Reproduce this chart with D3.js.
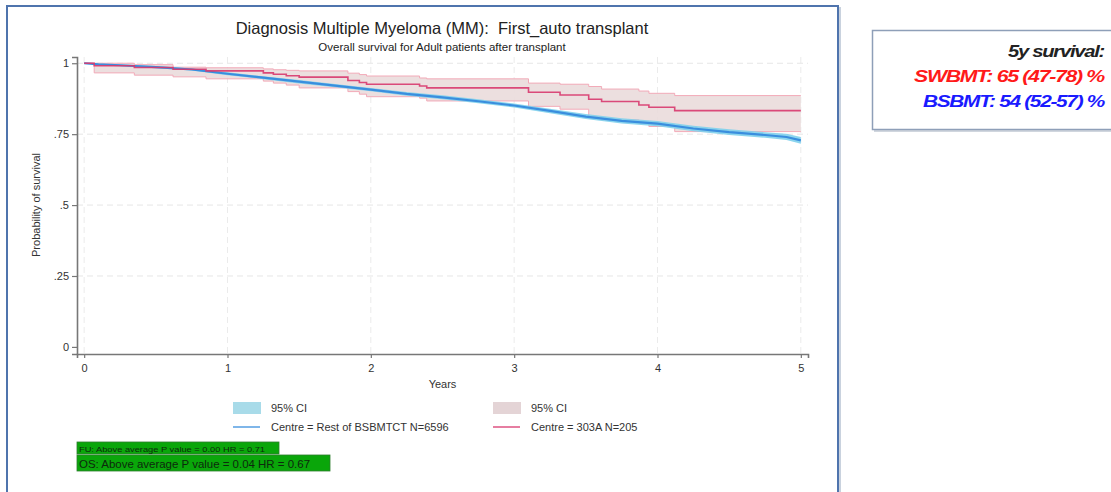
<!DOCTYPE html>
<html>
<head>
<meta charset="utf-8">
<script src="https://cdn.jsdelivr.net/npm/d3@7/dist/d3.min.js"></script>
<style>
  html, body { margin: 0; padding: 0; background: #fff; }
  svg { display: block; font-family: "Liberation Sans", Arial, sans-serif; }
  .pre { white-space: pre; }
</style>
</head>
<body>
<svg id="chart" width="1111" height="492"></svg>
<script>
// ---------- data ----------
const titleText = "Diagnosis Multiple Myeloma (MM):  First_auto transplant";
const subtitleText = "Overall survival for Adult patients after transplant";
const yTickValues = [0, 0.25, 0.5, 0.75, 1];
const yTickLabels = ["0", ".25", ".5", ".75", "1"];
const xTickValues = [0, 1, 2, 3, 4, 5];
const xTickLabels = ["0", "1", "2", "3", "4", "5"];

// Rest of BSBMTCT (N=6596) – many small steps, read at regular times
const blueTimes = [0, 0.1, 0.25, 0.5, 0.75, 1.0, 1.25, 1.5, 1.75, 2.0, 2.25, 2.5, 2.75, 3.0, 3.25, 3.5, 3.75, 4.0, 4.25, 4.5, 4.75, 4.9, 5.0];
const blueSurv  = [1.0, 0.996, 0.993, 0.986, 0.978, 0.963, 0.949, 0.935, 0.921, 0.907, 0.892, 0.880, 0.866, 0.851, 0.832, 0.812, 0.797, 0.787, 0.770, 0.757, 0.747, 0.740, 0.728];
const blueUpper = [1.0, 0.998, 0.996, 0.990, 0.982, 0.968, 0.954, 0.941, 0.927, 0.913, 0.899, 0.887, 0.873, 0.858, 0.840, 0.821, 0.806, 0.796, 0.780, 0.767, 0.757, 0.751, 0.740];
const blueLower = [1.0, 0.994, 0.990, 0.982, 0.974, 0.958, 0.944, 0.929, 0.915, 0.901, 0.885, 0.873, 0.859, 0.844, 0.824, 0.803, 0.788, 0.778, 0.760, 0.747, 0.737, 0.729, 0.716];

// Centre 303A (N=205) – step function
const redTimes = [0, 0.07, 0.35, 0.62, 0.85, 1.25, 1.32, 1.41, 1.50, 1.84, 1.92, 1.97, 2.34, 2.39, 3.10, 3.32, 3.52, 3.61, 3.87, 3.94, 4.12, 5.0];
const redSurv  = [1.0, 0.991, 0.985, 0.979, 0.973, 0.966, 0.961, 0.956, 0.951, 0.939, 0.932, 0.926, 0.920, 0.913, 0.898, 0.888, 0.873, 0.865, 0.853, 0.845, 0.833, 0.833];
const redUpper = [1.0, 1.0, 0.995, 0.986, 0.984, 0.980, 0.977, 0.975, 0.973, 0.965, 0.960, 0.955, 0.948, 0.945, 0.930, 0.926, 0.918, 0.909, 0.902, 0.894, 0.886, 0.886];
const redLower = [1.0, 0.966, 0.958, 0.952, 0.945, 0.937, 0.930, 0.923, 0.913, 0.900, 0.891, 0.882, 0.877, 0.867, 0.848, 0.838, 0.812, 0.800, 0.789, 0.777, 0.759, 0.759];

const legendLabels = ["95% CI", "Centre = Rest of BSBMTCT N=6596", "95% CI", "Centre = 303A N=205"];
const noteLines = ["FU: Above average P value = 0.00 HR = 0.71", "OS: Above average P value = 0.04 HR = 0.67"];
const boxLines = ["5y survival:", "SWBMT: 65 (47-78) %", "BSBMT: 54 (52-57) %"];

// ---------- drawing ----------
const svg = d3.select("#chart");
const blueLine = "#3a8ede", blueFill = "#7fd0ec", blueSwatch = "#a8dbe9";
const redLine = "#d8386e", redFill = "#eadcdc", redEdge = "#f2aab8";

// outer panel border (shadow + blue frame)
svg.append("rect").attr("x", 9).attr("y", 8).attr("width", 831).attr("height", 500)
  .attr("fill", "none").attr("stroke", "#c9d2de").attr("stroke-width", 2);
svg.append("rect").attr("x", 7).attr("y", 6).attr("width", 831).attr("height", 500)
  .attr("fill", "#fff").attr("stroke", "#4f74ad").attr("stroke-width", 2);

const x = d3.scaleLinear().domain([-0.05, 5.05]).range([77, 808]);
const y = d3.scaleLinear().domain([-0.025, 1.022]).range([354, 57]);

// gridlines
const grid = svg.append("g");
grid.selectAll("line.vg").data(xTickValues).join("line")
  .attr("x1", d => x(d)).attr("x2", d => x(d))
  .attr("y1", y.range()[1]).attr("y2", y.range()[0])
  .attr("stroke", "#ebebeb").attr("stroke-width", 1).attr("stroke-dasharray", "6,4");
grid.selectAll("line.hg").data(yTickValues.filter(v => v > 0)).join("line")
  .attr("x1", x.range()[0]).attr("x2", x.range()[1])
  .attr("y1", d => y(d)).attr("y2", d => y(d))
  .attr("stroke", "#e6e6e6").attr("stroke-width", 1).attr("stroke-dasharray", "6,4");

// axes
const yAxis = svg.append("g").attr("transform", `translate(${x.range()[0]},0)`)
  .call(d3.axisLeft(y).tickValues(yTickValues).tickFormat((d, i) => yTickLabels[i]).tickSizeOuter(0).tickSize(5).tickPadding(3));
const xAxis = svg.append("g").attr("transform", `translate(0,${y.range()[0]})`)
  .call(d3.axisBottom(x).tickValues(xTickValues).tickFormat((d, i) => xTickLabels[i]).tickSizeOuter(0).tickSize(4).tickPadding(6));
[yAxis, xAxis].forEach(a => {
  a.select(".domain").attr("stroke", "#777").attr("stroke-width", 1.6);
  a.selectAll(".tick line").attr("stroke", "#777").attr("stroke-width", 1.2);
  a.selectAll(".tick text").attr("fill", "#333").attr("font-size", 11)
    .attr("font-family", "'Liberation Sans', Arial, sans-serif");
});

// CI bands
const blueData = blueTimes.map((t, i) => ({t, s: blueSurv[i], u: blueUpper[i], l: blueLower[i]}));
const redData = redTimes.map((t, i) => ({t, s: redSurv[i], u: redUpper[i], l: redLower[i]}));

const areaStep = d3.area().x(d => x(d.t)).y0(d => y(d.l)).y1(d => y(d.u)).curve(d3.curveStepAfter);
const areaLin = d3.area().x(d => x(d.t)).y0(d => y(d.l)).y1(d => y(d.u)).curve(d3.curveLinear);
const lineStep = k => d3.line().x(d => x(d.t)).y(d => y(d[k])).curve(d3.curveStepAfter);
const lineLin = k => d3.line().x(d => x(d.t)).y(d => y(d[k])).curve(d3.curveLinear);

svg.append("path").datum(redData).attr("d", areaStep).attr("fill", redFill).attr("opacity", 0.9);
["u", "l"].forEach(k => svg.append("path").datum(redData).attr("d", lineStep(k))
  .attr("fill", "none").attr("stroke", redEdge).attr("stroke-width", 1));
svg.append("path").datum(blueData).attr("d", areaLin).attr("fill", blueFill).attr("opacity", 0.9);
svg.append("path").datum(blueData).attr("d", lineLin("s"))
  .attr("fill", "none").attr("stroke", blueLine).attr("stroke-width", 2.2);
svg.append("path").datum(redData).attr("d", lineStep("s"))
  .attr("fill", "none").attr("stroke", redLine).attr("stroke-width", 1.6).attr("opacity", 0.9);

// titles
svg.append("text").attr("class", "pre").attr("x", 442).attr("y", 34).attr("text-anchor", "middle")
  .attr("font-size", 16.5).attr("fill", "#222").text(titleText);
svg.append("text").attr("x", 442).attr("y", 51).attr("text-anchor", "middle")
  .attr("font-size", 11.5).attr("fill", "#222").text(subtitleText);
svg.append("text").attr("transform", "translate(40,205) rotate(-90)").attr("text-anchor", "middle")
  .attr("font-size", 11).attr("fill", "#333").text("Probability of survival");
svg.append("text").attr("x", (x(0) + x(5)) / 2).attr("y", 388).attr("text-anchor", "middle")
  .attr("font-size", 11).attr("fill", "#333").text("Years");

// legend
const legend = svg.append("g");
const legItems = [
  {x: 233, y: 408, type: "rect", color: blueSwatch, label: legendLabels[0]},
  {x: 233, y: 427, type: "line", color: blueLine, label: legendLabels[1]},
  {x: 493, y: 408, type: "rect", color: "#e4d4d6", label: legendLabels[2]},
  {x: 493, y: 427, type: "line", color: redLine, label: legendLabels[3]}
];
legItems.forEach(it => {
  if (it.type === "rect") {
    legend.append("rect").attr("x", it.x).attr("y", it.y - 6).attr("width", 28).attr("height", 12).attr("fill", it.color);
  } else {
    legend.append("line").attr("x1", it.x).attr("x2", it.x + 27).attr("y1", it.y).attr("y2", it.y)
      .attr("stroke", it.color).attr("stroke-width", 1.3);
  }
  legend.append("text").attr("x", it.x + 38).attr("y", it.y + 4).attr("font-size", 11)
    .attr("fill", "#333").text(it.label);
});

// green notes
svg.append("rect").attr("x", 77).attr("y", 442).attr("width", 202).attr("height", 12)
  .attr("fill", "#0aa60a").attr("stroke", "#2d7d2d").attr("stroke-width", 0.8);
svg.append("text").attr("x", 79).attr("y", 451.5).attr("font-size", 7.5).attr("fill", "#0d2a0d")
  .attr("textLength", 186).attr("lengthAdjust", "spacingAndGlyphs").text(noteLines[0]);
svg.append("rect").attr("x", 77).attr("y", 455).attr("width", 253).attr("height", 16)
  .attr("fill", "#0aa60a").attr("stroke", "#2d7d2d").attr("stroke-width", 0.8);
svg.append("text").attr("x", 79).attr("y", 467.5).attr("font-size", 11.5).attr("fill", "#0d2a0d")
  .attr("textLength", 231).attr("lengthAdjust", "spacingAndGlyphs").text(noteLines[1]);

// right summary box
svg.append("rect").attr("x", 874).attr("y", 32).attr("width", 260).attr("height", 100)
  .attr("fill", "#d0d6de");
svg.append("rect").attr("x", 872.5).attr("y", 30.5).attr("width", 260).attr("height", 99)
  .attr("fill", "#fff").attr("stroke", "#8e9fb8").attr("stroke-width", 1.5);
const boxColors = ["#222", "#ff1a1a", "#1a1aff"];
const boxY = [57, 82, 107];
const boxW = [96, 190, 181];
boxLines.forEach((t, i) => {
  svg.append("text").attr("x", 1104).attr("y", boxY[i]).attr("text-anchor", "end")
    .attr("font-size", 16).attr("font-style", "italic").attr("font-weight", "bold")
    .attr("font-family", "'Liberation Sans Narrow', 'Liberation Sans', Arial, sans-serif")
    .attr("letter-spacing", -1)
    .attr("textLength", boxW[i]).attr("lengthAdjust", "spacingAndGlyphs")
    .attr("fill", boxColors[i]).text(t);
});
</script>
</body>
</html>
